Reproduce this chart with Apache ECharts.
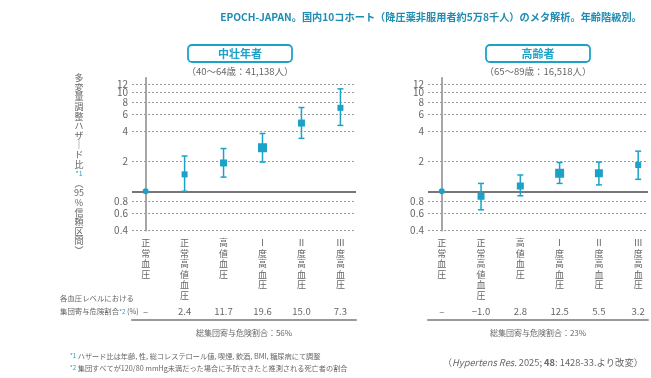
<!DOCTYPE html>
<html><head><meta charset="utf-8">
<script src="https://cdn.jsdelivr.net/npm/echarts@6/dist/echarts.min.js"></script>
<style>html,body{margin:0;padding:0;background:#fff}#c{width:651px;height:378px}</style>
</head><body><div id="c"></div>
<script>
const categories = ['正常血圧','正常高値血圧','高値血圧','Ⅰ度高血圧','Ⅱ度高血圧','Ⅲ度高血圧'];
const yTicks = [0.4,0.6,0.8,2,4,6,8,10,12];
const midHR = [1.0,1.48,1.93,2.75,4.88,6.95];
const midLo = [null,1.0,1.39,1.97,3.42,4.62];
const midHi = [null,2.27,2.70,3.83,7.0,10.8];
const oldHR = [1.0,0.89,1.13,1.52,1.52,1.84];
const oldLo = [null,0.65,0.90,1.20,1.16,1.32];
const oldHi = [null,1.20,1.46,1.95,1.97,2.54];
const midPAR = ['–','2.4','11.7','19.6','15.0','7.3'];
const oldPAR = ['–','−1.0','2.8','12.5','5.5','3.2'];
const midTotal = '総集団寄与危険割合：56%';
const oldTotal = '総集団寄与危険割合：23%';
const panelTitles = ['中壮年者','高齢者'];
const panelSubs = ['（40～64歳：41,138人）','（65～89歳：16,518人）'];

const TEAL = '#1ca2c8';
const TXT = '#666';
const FONT = '"Noto Sans CJK JP", "Noto Sans", sans-serif';
const L = Math.log10;
const midSize = [6,6,7,9,7,6];
const oldSize = [6,7,7,9,8,6];

const chart = echarts.init(document.getElementById('c'), null, {renderer:'canvas'});
const idx = categories.map((_, i) => i);

function yAx(gi){
  return {type:'value', gridIndex:gi, min:L(0.4), max:L(14),
    axisLine:{show:true, lineStyle:{color:'#888', width:1.5}},
    axisTick:{show:false}, axisLabel:{show:false}, splitLine:{show:false}};
}
function xCat(gi, mn, mx){
  return {type:'value', gridIndex:gi, min:mn, max:mx, position:'bottom',
    axisLine:{show:false}, axisTick:{show:false}, splitLine:{show:false},
    axisLabel:{customValues: idx, fontSize:9, lineHeight:10.5, color:TXT, margin:7, fontFamily:FONT,
      formatter: v => Array.from(categories[Math.round(v)]).join('\n')}};
}
function xPar(gi, mn, mx, par, total){
  return {type:'value', gridIndex:gi, min:mn, max:mx, position:'bottom', offset:89,
    axisLine:{show:true, lineStyle:{color:'#999', width:2}}, axisTick:{show:false}, splitLine:{show:false},
    axisLabel:{customValues: idx, inside:true, margin:4, fontSize:9.5, color:TXT, fontFamily:FONT,
      formatter: v => par[Math.round(v)]},
    name: total, nameLocation:'middle', nameGap:9,
    nameTextStyle:{fontSize:8, color:TXT, fontFamily:FONT}};
}
function errSeries(xi, yi, lo, hi){
  const data = [];
  lo.forEach((l, i) => { if (l != null) data.push([i, L(l), L(hi[i])]); });
  return {type:'custom', xAxisIndex:xi, yAxisIndex:yi, data, encode:{x:0, y:[1,2]}, z:3,
    renderItem:(params, api) => {
      const x = api.value(0);
      const a = api.coord([x, api.value(1)]);
      const b = api.coord([x, api.value(2)]);
      const st = {stroke:TEAL, lineWidth:1.5};
      return {type:'group', children:[
        {type:'line', shape:{x1:a[0], y1:a[1], x2:b[0], y2:b[1]}, style:st},
        {type:'line', shape:{x1:a[0]-3, y1:a[1], x2:a[0]+3, y2:a[1]}, style:st},
        {type:'line', shape:{x1:b[0]-3, y1:b[1], x2:b[0]+3, y2:b[1]}, style:st}
      ]};
    }};
}
function ptSeries(xi, yi, hr, sizes){
  const grid = yTicks.map(v => ({yAxis: L(v), lineStyle:{color:'#999', width:1, type:[2,2]},
    label:{show:true, position:'start', distance:4, formatter: String(v), color:TXT, fontSize:10, fontFamily:FONT}}));
  grid.push({yAxis: 0, lineStyle:{color:'#777', width:2, type:'solid'}, label:{show:false}});
  return {type:'scatter', xAxisIndex:xi, yAxisIndex:yi, z:4,
    data: hr.map((h, i) => ({value:[i, L(h)], symbol: i === 0 ? 'circle' : 'rect', symbolSize: sizes[i]})),
    itemStyle:{color:TEAL, opacity:1},
    markLine:{silent:true, symbol:'none', z:2, precision:6, data:grid}};
}

const ytitle = ['多','変','量','調','整','ハ','ザ','｜','ド','比','{s|*1}','︵','95','%','信','頼','区','間','︶'].join('\n');

function box(cx, title, sub){
  return [
    {type:'rect', shape:{x:cx-52, y:45, width:104, height:17, r:4}, style:{fill:'#fff', stroke:TEAL, lineWidth:1.8}},
    {type:'text', x:cx, y:53.5, style:{text:title, fill:TEAL, font:'bold 11px '+FONT, textAlign:'center', textVerticalAlign:'middle'}},
    {type:'text', x:cx, y:71, style:{text:sub, fill:TXT, font:'9.5px '+FONT, textAlign:'center', textVerticalAlign:'middle'}}
  ];
}

chart.setOption({
  animation:false,
  grid:[
    {left:132, top:77.7, width:224, height:153, outerBoundsMode:'none', containLabel:false},
    {left:428, top:77.7, width:220, height:153, outerBoundsMode:'none', containLabel:false}
  ],
  xAxis:[ xCat(0,-0.35,5.4), xPar(0,-0.35,5.4,midPAR,midTotal), xCat(1,-0.35,5.25), xPar(1,-0.35,5.25,oldPAR,oldTotal) ],
  yAxis:[ yAx(0), yAx(1) ],
  series:[
    errSeries(0,0,midLo,midHi), ptSeries(0,0,midHR,midSize),
    errSeries(2,1,oldLo,oldHi), ptSeries(2,1,oldHR,oldSize)
  ],
  graphic:[
    {type:'text', x:431, y:17, style:{text:'EPOCH-JAPAN。国内10コホート（降圧薬非服用者約5万8千人）のメタ解析。年齢階級別。',
      fill:'#1f8db3', font:'bold 10.2px '+FONT, textAlign:'center', textVerticalAlign:'middle'}},
    ...box(240, panelTitles[0], panelSubs[0]),
    ...box(538, panelTitles[1], panelSubs[1]),
    {type:'text', x:79, y:73, style:{text:ytitle, fill:TXT, font:'9px '+FONT, lineHeight:9.6, textAlign:'center',
      rich:{s:{fill:TEAL, fontSize:7, lineHeight:9.6, fontFamily:FONT}}}},
    {type:'text', x:60, y:292, style:{text:'各血圧レベルにおける\n集団寄与危険割合{s|*2} (%)', fill:TXT, font:'7.4px '+FONT, lineHeight:13,
      rich:{s:{fill:TEAL, fontSize:6, fontFamily:FONT}}}},
    {type:'text', x:70, y:350, style:{text:'{s|*1} ハザード比は年齢, 性, 総コレステロール値, 喫煙, 飲酒, BMI, 糖尿病にて調整\n{s|*2} 集団すべてが120/80 mmHg未満だった場合に予防できたと推測される死亡者の割合',
      fill:TXT, font:'7.2px '+FONT, lineHeight:12, rich:{s:{fill:TEAL, fontSize:6, fontFamily:FONT}}}},
    {type:'text', x:643, y:362, style:{text:'（{i|Hypertens Res.} 2025; {b|48}: 1428-33.より改変）', fill:TXT, font:'9.3px '+FONT,
      textAlign:'right', textVerticalAlign:'middle',
      rich:{i:{fontStyle:'italic', fontSize:9.3, fontFamily:FONT, fill:TXT}, b:{fontWeight:'bold', fontSize:9.3, fontFamily:FONT, fill:TXT}}}}
  ]
});
</script></body></html>
